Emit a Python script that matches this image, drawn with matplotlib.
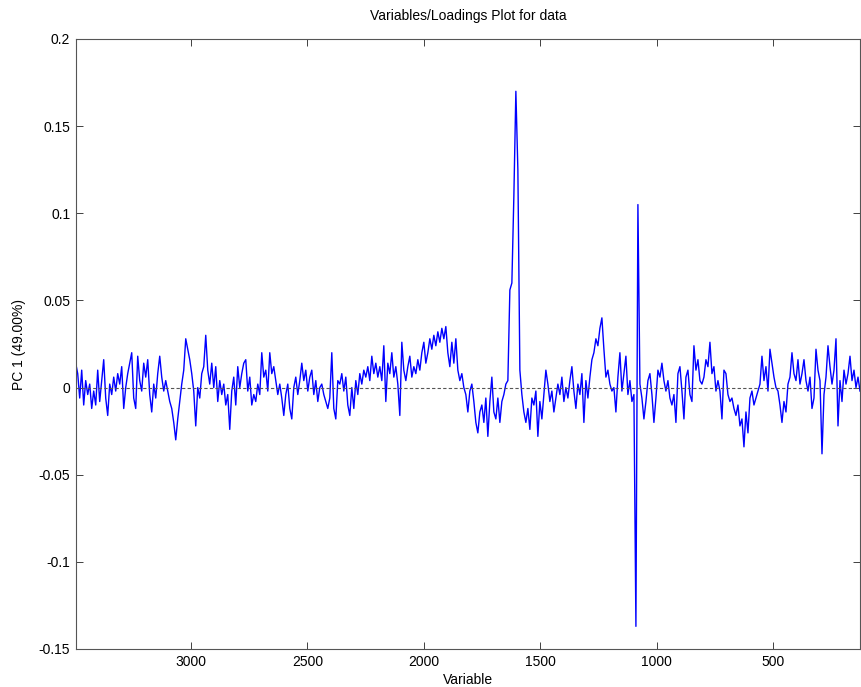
import numpy as np
import matplotlib
matplotlib.use("Agg")
import matplotlib.pyplot as plt

plt.rcParams['font.family'] = ['Liberation Sans', 'DejaVu Sans']

# Variable axis (wavenumber), descending, evenly spaced samples
x_start = 3495.0
x_stop = 126.0

# PC 1 loadings (in thousandths) left to right
load_milli = [
    # 3495 .. ~2915
    14, 8, -6, 10, -10, 4, -4, 2, -12, -2, -10, 10, -8, 4, 16, -6, -16, 2, -4, 6,
    -2, 8, 2, 12, -12, 0, 8, 14, 20, -6, -12, 18, 4, -2, 14, 6, 16, -4, -14, 2,
    -6, 8, 18, 6, -2, 4, -2, -8, -12, -20, -30, -18, -8, 2, 10, 28, 22, 16, 8, -2,
    -22, 0, -6, 8, 12, 30, 10, 2,
    # ~2915 .. ~2345
    14, 0, 12, -8, 4, -4, 2, -10, -4, -24, -2, 6, -10, 12, 0, 8, 14, 16, -2, 6,
    -10, -4, -8, 2, -4, 20, 6, 10, -2, 20, 8, 12, 4, -4, 2, -6, -16, -4, 2, -12,
    -18, 0, 6, -4, 4, 14, 4, 10, -2, 6, 10, -4, 4, -8, 0, 2, -4, -8, -12, -6,
    20, -12, -18, 4, 2, 8, -2,
    # ~2345 .. ~1770
    6, -10, -16, 0, -12, 4, -4, 8, 2, 10, 6, 12, 4, 18, 8, 14, 6, 12, 4, 24,
    -8, 14, 8, 20, 6, 12, 2, -16, 26, 10, 4, 12, 18, 6, 12, 8, 16, 10, 20, 26,
    14, 20, 28, 22, 30, 24, 32, 26, 34, 28, 35, 20, 12, 26, 14, 28, 10, 4, 8, 0,
    -4, -14, -2, 2, -8, -20, -26, -14,
    # ~1770 .. ~1200
    -10, -20, -6, -28, -8, 6, -14, -18, -6, -20, -8, -4, 2, 4, 56, 60, 110, 170, 125, 10,
    -4, -14, -20, -12, -24, -6, -10, -2, -28, -8, -18, -4, 10, 2, -8, -2, -14, -6, 2, -4,
    6, -8, 0, -6, 4, 12, -2, -12, 2, -4, 8, -20, 4, -6, 6, 16, 20, 28, 24, 34,
    40, 22, 6, 10, 2, -2, 0,
    # ~1200 .. ~630
    -14, 6, 20, -2, 8, 18, -4, 4, -8, -4, -137, 105, 2, -6, -18, -8, 4, 8, -4, -20,
    -6, 10, 6, 14, 4, -2, 4, -6, -10, -4, -20, 8, 12, -2, -18, 6, 10, -4, -8, 24,
    10, 16, 4, 2, 6, 16, 12, 26, 8, 12, -2, 4, -2, -18, 10, 8, -4, -8, -6, -12,
    -16, -10, -22, -18, -34, -14, -26,
    # ~630 .. 126
    -6, -2, -10, -6, -2, 2, 18, 4, 12, -2, 22, 14, 6, 0, -2, -10, -20, -8, -14, 2,
    6, 20, 8, 4, 16, 2, 8, 16, 4, -2, 6, -12, -6, 22, 10, 4, -38, -4, 6, 24,
    12, 2, 10, 28, -22, 4, -8, 10, 2, 8, 18, 4, 10, 0, 6, -2,
]

y_ticks = [-0.15, -0.1, -0.05, 0, 0.05, 0.1, 0.15, 0.2]
y_tick_labels = ["-0.15", "-0.1", "-0.05", "0", "0.05", "0.1", "0.15", "0.2"]
x_ticks = [3000, 2500, 2000, 1500, 1000, 500]
x_tick_labels = ["3000", "2500", "2000", "1500", "1000", "500"]

loadings = np.array(load_milli, dtype=float) / 1000.0
variable = np.linspace(x_start, x_stop, len(loadings))

fig = plt.figure(figsize=(8.62, 6.87), dpi=100)
ax = fig.add_axes([75.7 / 862, 1 - 649 / 687, (860 - 75.7) / 862, (649 - 39) / 687])

ax.plot(variable, loadings, color=(0, 0, 1), linewidth=1.0)
ax.axhline(0, color='#555555', linestyle=(0, (3, 2)), linewidth=0.8)

ax.set_xlim(x_start, x_stop)
ax.set_ylim(-0.15, 0.2)
ax.set_xticks(x_ticks)
ax.set_xticklabels(x_tick_labels)
ax.set_yticks(y_ticks)
ax.set_yticklabels(y_tick_labels)
ax.tick_params(direction='in', top=True, right=True, length=5, width=0.6,
               labelsize=10, colors='#222222', labelcolor='black', pad=4)
for s in ax.spines.values():
    s.set_color('#555555')
    s.set_linewidth(0.8)

ax.set_title("Variables/Loadings Plot for data", fontsize=10, pad=14)
ax.set_xlabel("Variable", fontsize=10, labelpad=3)
ax.set_ylabel("PC 1 (49.00%)", fontsize=10, labelpad=9)

fig.savefig("out.png", dpi=100)
